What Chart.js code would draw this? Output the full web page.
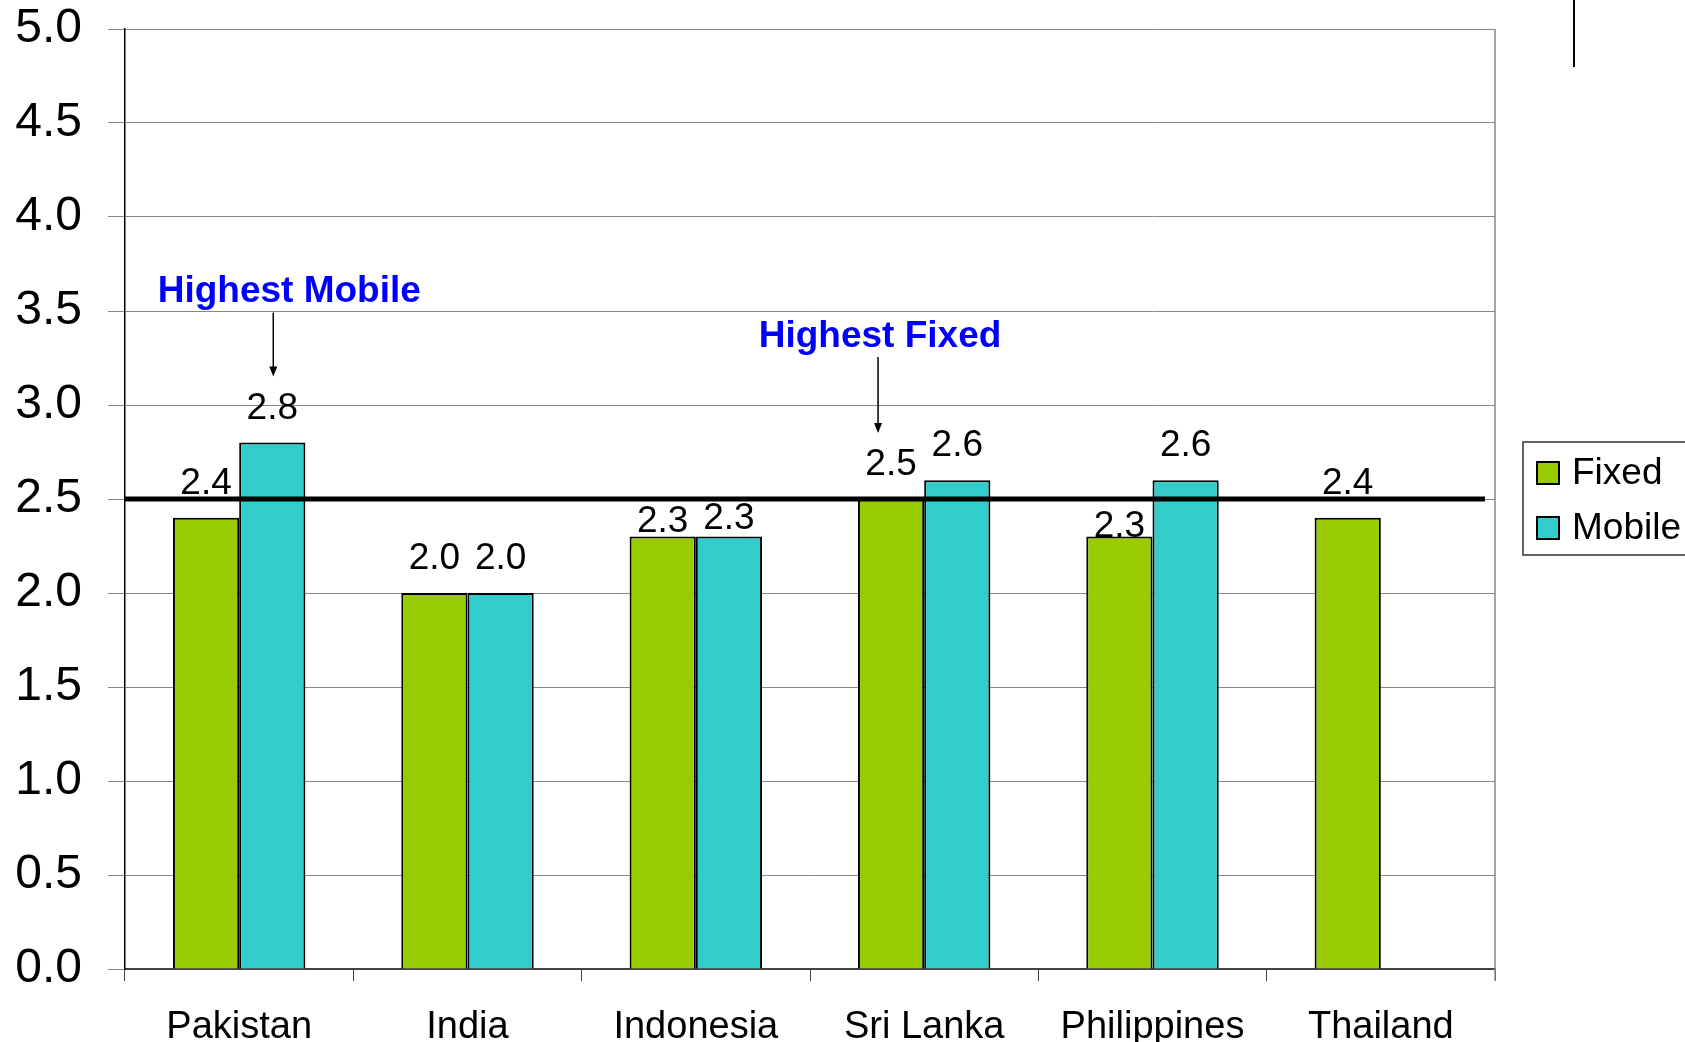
<!DOCTYPE html>
<html>
<head>
<meta charset="utf-8">
<script src="https://cdn.jsdelivr.net/npm/chart.js@4.4.1/dist/chart.umd.min.js"></script>
<style>
  html,body{margin:0;padding:0;background:#fff;}
</style>
</head>
<body>
<canvas id="chart" width="1685" height="1042"></canvas>
<script>
// data
const countries    = ['Pakistan', 'India', 'Indonesia', 'Sri Lanka', 'Philippines', 'Thailand'];
const fixedScores  = [2.4, 2.0, 2.3, 2.5, 2.3, 2.4];
const mobileScores = [2.8, 2.0, 2.3, 2.6, 2.6, null];
const seriesNames  = ['Fixed', 'Mobile'];
const yMin = 0, yMax = 5, yStep = 0.5;
const benchmark = 2.5;
const callouts = [
  { text: 'Highest Mobile', series: 1, index: 0 },
  { text: 'Highest Fixed',  series: 0, index: 3 }
];

const FONT = '"Liberation Sans", Arial, sans-serif';
const colors = ['#99CC00', '#33CCCC'];

// label nudges (series -> index -> px down), callout placement
const labelShift = { 0: { 2: 19, 4: 24 }, 1: { 2: 16 } };
const calloutPos = [
  { dx: 17,  arrowDx: 1,   textDy: -141, arrowTop: -130, arrowTip: -66 },
  { dx: -11, arrowDx: -13, textDy: -152, arrowTop: -142, arrowTip: -66 }
];

const extras = {
  id: 'extras',
  afterDatasetsDraw(chart){
    const { ctx, chartArea: a, scales: { y } } = chart;
    ctx.save();

    // right border of plot
    ctx.strokeStyle = '#888'; ctx.lineWidth = 1.5;
    ctx.beginPath(); ctx.moveTo(a.right, a.top); ctx.lineTo(a.right, a.bottom + 12); ctx.stroke();

    // benchmark line
    const by = y.getPixelForValue(benchmark);
    ctx.strokeStyle = '#000'; ctx.lineWidth = 5;
    ctx.beginPath(); ctx.moveTo(a.left, by); ctx.lineTo(a.right - 10, by); ctx.stroke();

    // value labels
    ctx.font = '37px ' + FONT; ctx.fillStyle = '#000';
    ctx.textAlign = 'center'; ctx.textBaseline = 'alphabetic';
    chart.data.datasets.forEach((ds, di) => {
      chart.getDatasetMeta(di).data.forEach((bar, i) => {
        const v = ds.data[i];
        if (v == null) return;
        const shift = (labelShift[di] && labelShift[di][i]) || 0;
        ctx.fillText(v.toFixed(1), bar.x, bar.y - 24 + shift);
      });
    });

    // callouts
    callouts.forEach((c, k) => {
      const p = calloutPos[k];
      const bar = chart.getDatasetMeta(c.series).data[c.index];
      ctx.font = 'bold 37px ' + FONT; ctx.fillStyle = '#0000FF';
      ctx.fillText(c.text, bar.x + p.dx, bar.y + p.textDy);
      const ax = bar.x + p.arrowDx, tip = bar.y + p.arrowTip;
      ctx.strokeStyle = '#000'; ctx.lineWidth = 1.5;
      ctx.beginPath(); ctx.moveTo(ax, bar.y + p.arrowTop); ctx.lineTo(ax, tip - 8); ctx.stroke();
      ctx.fillStyle = '#000';
      ctx.beginPath(); ctx.moveTo(ax - 4, tip - 10); ctx.lineTo(ax + 4, tip - 10); ctx.lineTo(ax, tip); ctx.closePath(); ctx.fill();
    });

    // legend
    ctx.fillStyle = '#fff'; ctx.strokeStyle = '#333'; ctx.lineWidth = 1.5;
    ctx.fillRect(1523, 442, 200, 113); ctx.strokeRect(1523, 442, 200, 113);
    ctx.font = '37px ' + FONT; ctx.textAlign = 'left'; ctx.textBaseline = 'middle';
    chart.data.datasets.forEach((ds, di) => {
      const cy = 473 + di * 55;
      ctx.fillStyle = ds.backgroundColor; ctx.fillRect(1537, cy - 11, 22, 22);
      ctx.strokeStyle = '#000'; ctx.lineWidth = 2; ctx.strokeRect(1537, cy - 11, 22, 22);
      ctx.fillStyle = '#000'; ctx.fillText(ds.label, 1572, cy + 1);
    });

    // stray mark top right
    ctx.strokeStyle = '#000'; ctx.lineWidth = 2;
    ctx.beginPath(); ctx.moveTo(1574, 0); ctx.lineTo(1574, 67); ctx.stroke();

    ctx.restore();
  }
};

new Chart(document.getElementById('chart'), {
  type: 'bar',
  data: {
    labels: countries,
    datasets: [fixedScores, mobileScores].map((d, i) => ({
      label: seriesNames[i], data: d,
      backgroundColor: colors[i], borderColor: '#000', borderWidth: 2,
      categoryPercentage: 0.58, barPercentage: 1
    }))
  },
  options: {
    responsive: false,
    devicePixelRatio: 1,
    animation: false,
    layout: { padding: { top: 29, right: 190, bottom: 0, left: 0 } },
    scales: {
      x: {
        grid: { drawOnChartArea: false, tickLength: 12, color: '#444', offset: true },
        border: { color: '#444', width: 2 },
        ticks: { color: '#000', font: { family: FONT, size: 38 }, padding: 24 },
        afterFit: s => { s.height = 73; s.paddingLeft = 0; s.paddingRight = 0; }
      },
      y: {
        min: yMin, max: yMax,
        grid: { color: '#888', lineWidth: 1, tickLength: 17 },
        border: { color: '#000', width: 1.5 },
        ticks: { stepSize: yStep, color: '#000', font: { family: FONT, size: 48 }, padding: 26,
                 callback: v => v.toFixed(1) },
        afterFit: s => { s.width = 125; s.paddingTop = 0; s.paddingBottom = 0; }
      }
    },
    plugins: { legend: { display: false }, tooltip: { enabled: false } }
  },
  plugins: [extras]
});
</script>
</body>
</html>
